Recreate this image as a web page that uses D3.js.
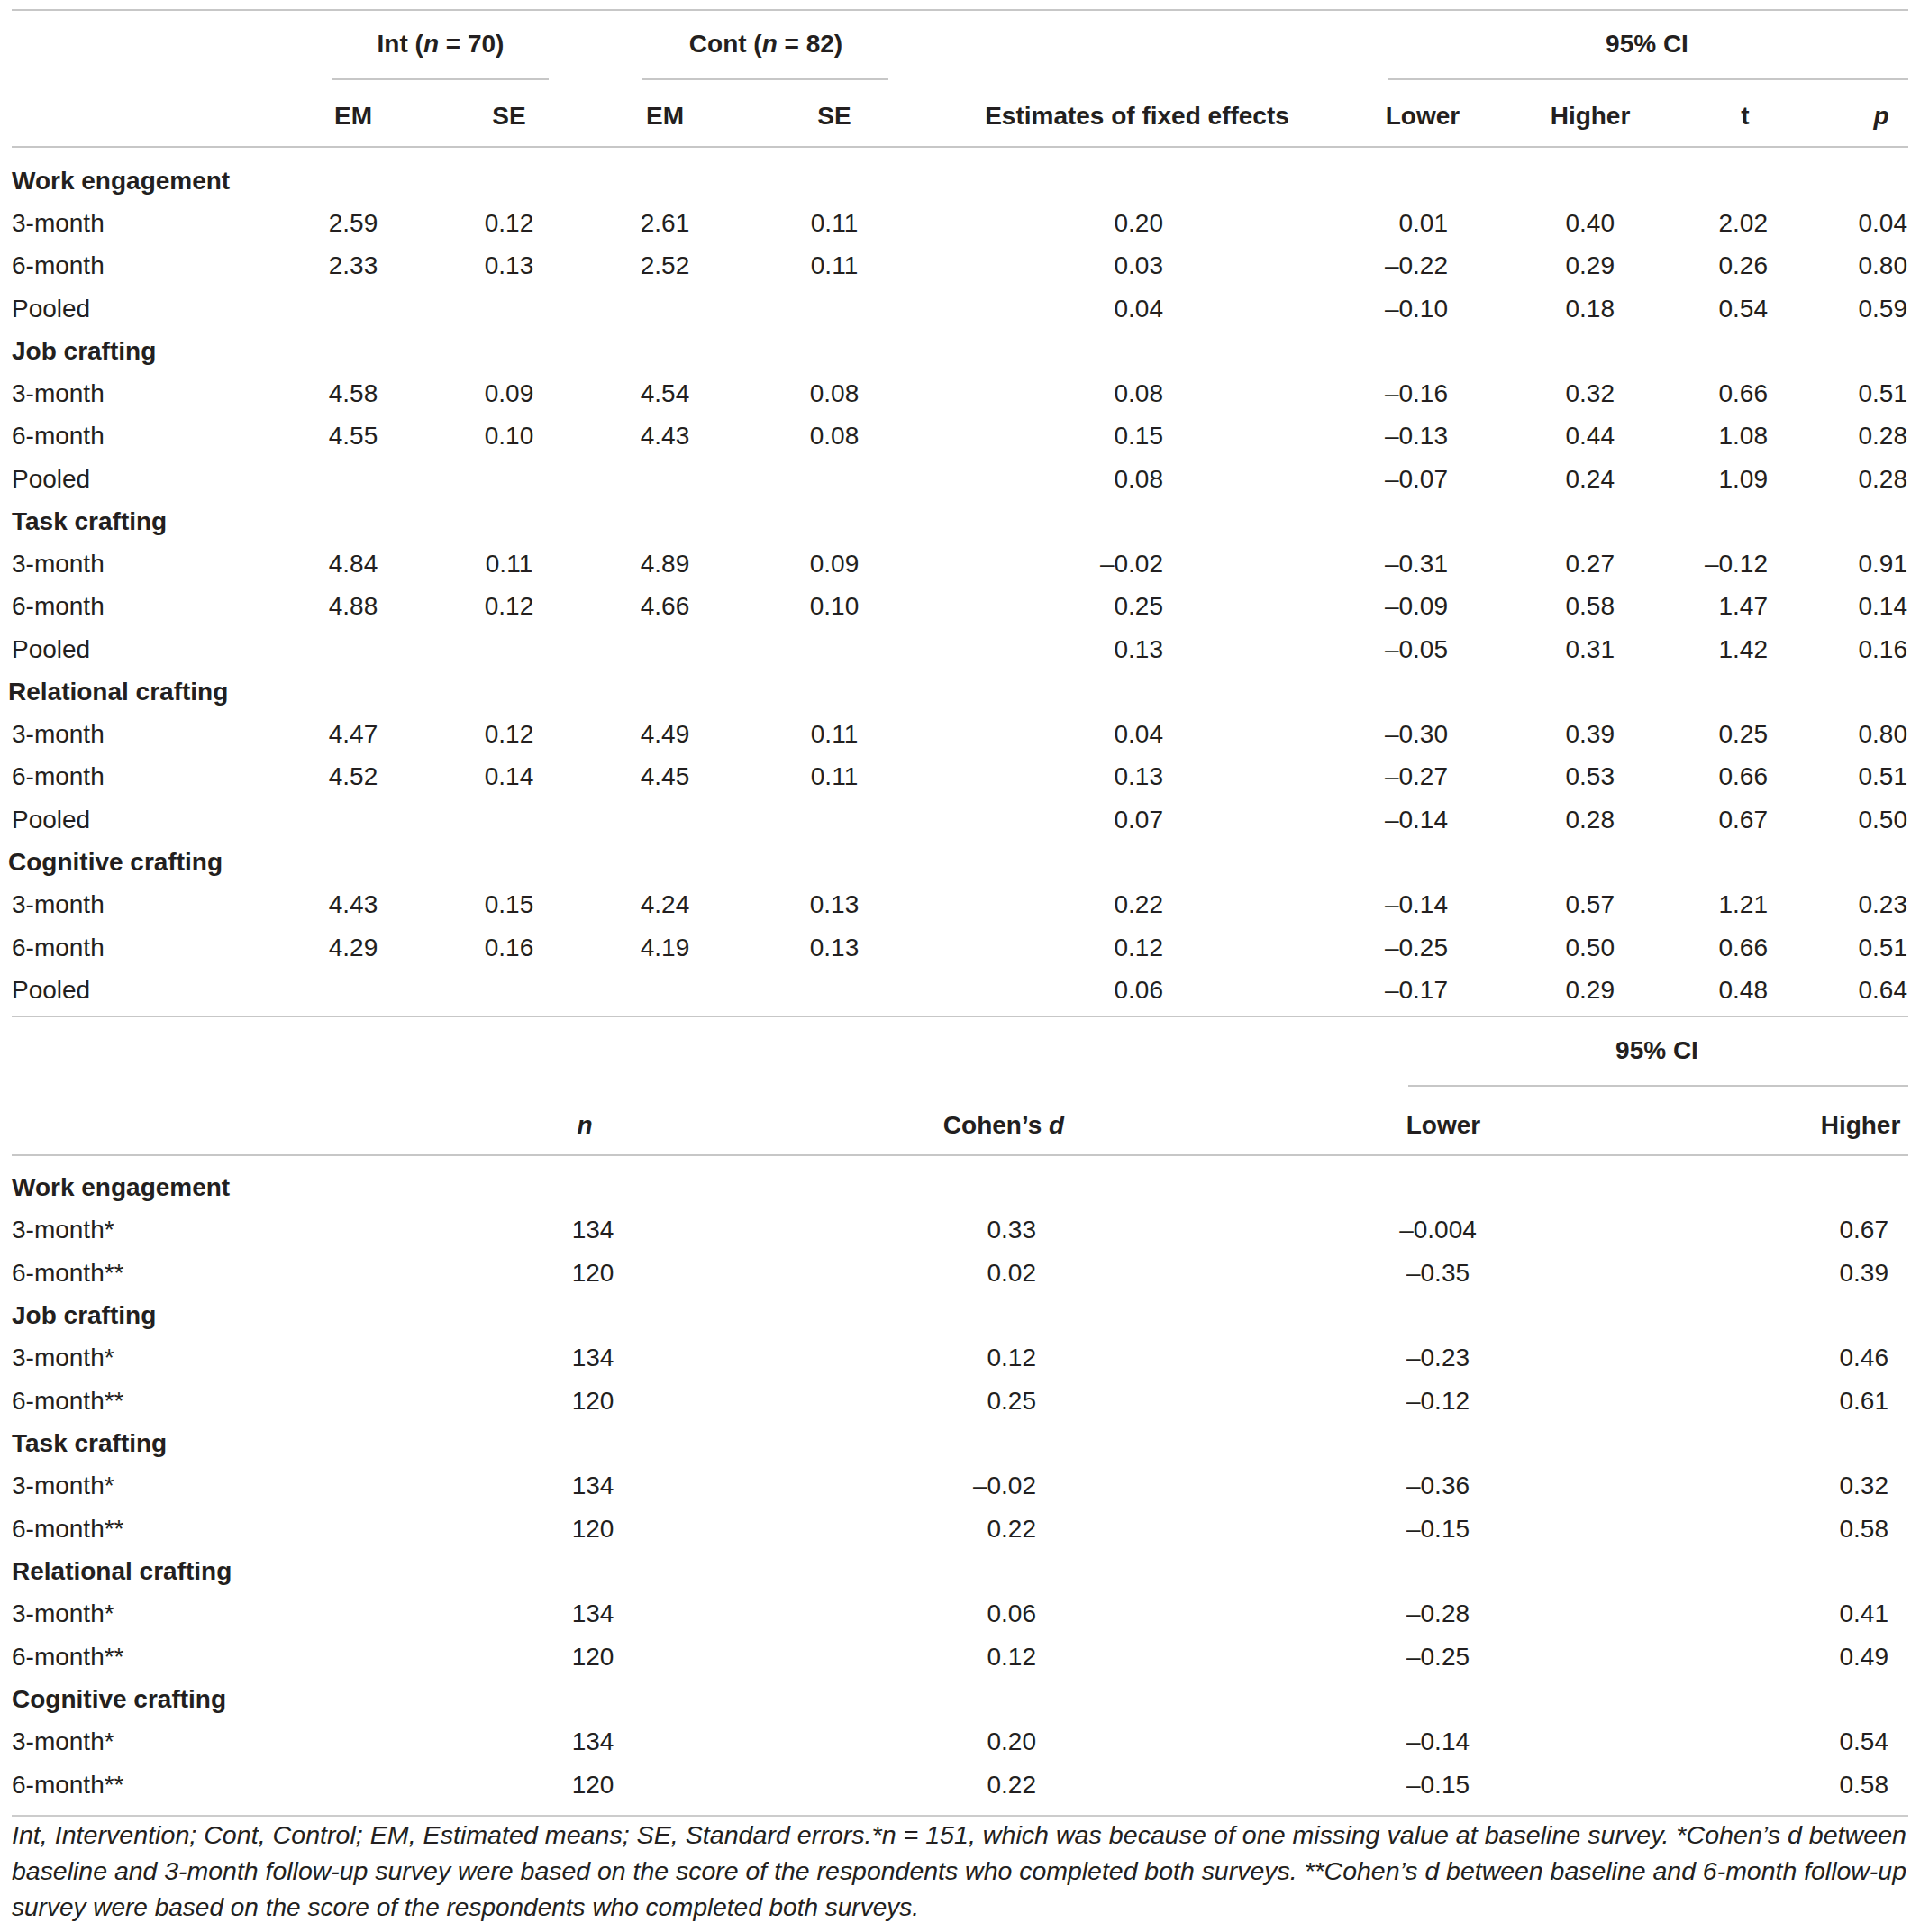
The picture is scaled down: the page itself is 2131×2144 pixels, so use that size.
<!DOCTYPE html>
<html>
<head>
<meta charset="utf-8">
<script src="https://cdn.jsdelivr.net/npm/d3@7"></script>
<style>
  html, body { margin: 0; padding: 0; background: #fff; }
  svg text { font-family: "Liberation Sans", Arial, Helvetica, sans-serif; }
</style>
</head>
<body>
<div id="table"></div>
<script>
// ── Data ─────────────────────────────────────────────────────────
const groups   = ["Work engagement", "Job crafting", "Task crafting", "Relational crafting", "Cognitive crafting"];
const periods  = ["3-month", "6-month", "Pooled"];
const periods2 = ["3-month*", "6-month**"];

// upper table, one entry per group × period (null = empty cell)
const intEM    = [2.59, 2.33, null, 4.58, 4.55, null, 4.84, 4.88, null, 4.47, 4.52, null, 4.43, 4.29, null];
const intSE    = [0.12, 0.13, null, 0.09, 0.10, null, 0.11, 0.12, null, 0.12, 0.14, null, 0.15, 0.16, null];
const contEM   = [2.61, 2.52, null, 4.54, 4.43, null, 4.89, 4.66, null, 4.49, 4.45, null, 4.24, 4.19, null];
const contSE   = [0.11, 0.11, null, 0.08, 0.08, null, 0.09, 0.10, null, 0.11, 0.11, null, 0.13, 0.13, null];
const fixedEst = [0.20, 0.03, 0.04, 0.08, 0.15, 0.08, -0.02, 0.25, 0.13, 0.04, 0.13, 0.07, 0.22, 0.12, 0.06];
const ciLower  = [0.01, -0.22, -0.10, -0.16, -0.13, -0.07, -0.31, -0.09, -0.05, -0.30, -0.27, -0.14, -0.14, -0.25, -0.17];
const ciHigher = [0.40, 0.29, 0.18, 0.32, 0.44, 0.24, 0.27, 0.58, 0.31, 0.39, 0.53, 0.28, 0.57, 0.50, 0.29];
const tStat    = [2.02, 0.26, 0.54, 0.66, 1.08, 1.09, -0.12, 1.47, 1.42, 0.25, 0.66, 0.67, 1.21, 0.66, 0.48];
const pVal     = [0.04, 0.80, 0.59, 0.51, 0.28, 0.28, 0.91, 0.14, 0.16, 0.80, 0.51, 0.50, 0.23, 0.51, 0.64];

// lower table, one entry per group × period2
const sampleN  = [134, 120, 134, 120, 134, 120, 134, 120, 134, 120];
const cohenD   = [0.33, 0.02, 0.12, 0.25, -0.02, 0.22, 0.06, 0.12, 0.20, 0.22];
const dLower   = [-0.004, -0.35, -0.23, -0.12, -0.36, -0.15, -0.28, -0.25, -0.14, -0.15];
const dHigher  = [0.67, 0.39, 0.46, 0.61, 0.32, 0.58, 0.41, 0.49, 0.54, 0.58];

const footnote = [
  "Int, Intervention; Cont, Control; EM, Estimated means; SE, Standard errors.*n = 151, which was because of one missing value at baseline survey. *Cohen\u2019s d between",
  "baseline and 3-month follow-up survey were based on the score of the respondents who completed both surveys. **Cohen\u2019s d between baseline and 6-month follow-up",
  "survey were based on the score of the respondents who completed both surveys."
];

// ── Helpers ──────────────────────────────────────────────────────
function fmt(v) {
  if (v === null || v === undefined) return "";
  if (Number.isInteger(v) && Math.abs(v) >= 1) return String(v);
  const dec = Math.max(2, (String(Math.abs(v)).split(".")[1] || "").length);
  return (v < 0 ? "\u2013" : "") + Math.abs(v).toFixed(dec);
}

const W = 2131, H = 2144;
const FS = 28;
const TEXT = "#231f20";
const RULE = "#b4b4b4";
const L = 13, R = 2118;

const svg = d3.select("#table").append("svg")
  .attr("width", W).attr("height", H)
  .attr("viewBox", `0 0 ${W} ${H}`);

function txt(x, y, s, anchor = "start", weight = "normal") {
  return svg.append("text")
    .attr("x", x).attr("y", y).attr("dy", "0.35em")
    .attr("text-anchor", anchor)
    .attr("font-size", FS).attr("font-weight", weight)
    .attr("fill", TEXT)
    .text(s);
}
function rule(x1, x2, y, color = RULE, w = 1.6) {
  svg.append("line").attr("x1", x1).attr("x2", x2).attr("y1", y).attr("y2", y)
    .attr("stroke", color).attr("stroke-width", w);
}
// header with italic parts: parts = [[text, italic], ...]
function richHeader(x, y, parts, anchor = "middle") {
  const t = svg.append("text")
    .attr("x", x).attr("y", y).attr("dy", "0.35em")
    .attr("text-anchor", anchor)
    .attr("font-size", FS).attr("font-weight", "bold").attr("fill", TEXT);
  parts.forEach(([s, it]) => t.append("tspan").attr("font-style", it ? "italic" : "normal").text(s));
  return t;
}

// ── Upper table ──────────────────────────────────────────────────
const topCols = [
  { key: "intEM",  data: intEM,    anchor: "middle" },
  { key: "intSE",  data: intSE,    anchor: "middle" },
  { key: "contEM", data: contEM,   anchor: "middle" },
  { key: "contSE", data: contSE,   anchor: "middle" },
  { key: "est",    data: fixedEst, anchor: "end" },
  { key: "lower",  data: ciLower,  anchor: "end" },
  { key: "higher", data: ciHigher, anchor: "end" },
  { key: "t",      data: tStat,    anchor: "end" },
  { key: "p",      data: pVal,     anchor: "end" }
];
const xTop = d3.scaleOrdinal()
  .domain(topCols.map(c => c.key))
  .range([392, 565, 738, 926, 1291, 1607, 1792, 1962, 2117]);

const topRows = [];
groups.forEach((g, gi) => {
  topRows.push({ label: g, group: true, gi });
  periods.forEach((p, pi) => topRows.push({ label: p, group: false, idx: gi * periods.length + pi }));
});
const yTop = d3.scaleLinear().domain([0, topRows.length - 1]).range([200, 1098]);

rule(L, R, 11);
richHeader(489, 48, [["Int (", false], ["n", true], [" = 70)", false]]);
richHeader(850, 48, [["Cont (", false], ["n", true], [" = 82)", false]]);
richHeader(1828, 48, [["95% CI", false]]);
rule(368, 609, 88);
rule(713, 986, 88);
rule(1541, R, 88);

const topHead = [["EM", 392], ["SE", 565], ["EM", 738], ["SE", 926],
  ["Estimates of fixed effects", 1262], ["Lower", 1579], ["Higher", 1765], ["t", 1937]];
topHead.forEach(([s, x]) => txt(x, 128, s, "middle", "bold"));
richHeader(2088, 128, [["p", true]]);
rule(L, R, 163);

topRows.forEach((r, i) => {
  const y = yTop(i);
  if (r.group) {
    txt(r.gi >= 3 ? 9 : 13, y, r.label, "start", "bold");
    return;
  }
  txt(13, y, r.label);
  topCols.forEach(c => {
    const v = c.data[r.idx];
    if (v !== null) txt(xTop(c.key), y, fmt(v), c.anchor);
  });
});

rule(L, R, 1128);

// ── Lower table ──────────────────────────────────────────────────
const botCols = [
  { key: "n",      data: sampleN, anchor: "middle" },
  { key: "d",      data: cohenD,  anchor: "end" },
  { key: "lower",  data: dLower,  anchor: "middle" },
  { key: "higher", data: dHigher, anchor: "end" }
];
const xBot = d3.scaleOrdinal()
  .domain(botCols.map(c => c.key))
  .range([658, 1150, 1596, 2096]);

const botRows = [];
groups.forEach((g, gi) => {
  botRows.push({ label: g, group: true });
  periods2.forEach((p, pi) => botRows.push({ label: p, group: false, idx: gi * periods2.length + pi }));
});
const yBot = d3.scaleLinear().domain([0, botRows.length - 1]).range([1317, 1980]);

richHeader(1839, 1165, [["95% CI", false]]);
rule(1563, R, 1205);
richHeader(649, 1248, [["n", true]]);
richHeader(1114, 1248, [["Cohen\u2019s ", false], ["d", true]]);
txt(1602, 1248, "Lower", "middle", "bold");
txt(2065, 1248, "Higher", "middle", "bold");
rule(L, R, 1282);

botRows.forEach((r, i) => {
  const y = yBot(i);
  if (r.group) { txt(13, y, r.label, "start", "bold"); return; }
  txt(13, y, r.label);
  botCols.forEach(c => txt(xBot(c.key), y, fmt(c.data[r.idx]), c.anchor));
});

rule(L, R, 2015, "#cccccc", 2.2);

// ── Footnote (baselines) ─────────────────────────────────────────
const yFoot = d3.scalePoint().domain(d3.range(footnote.length)).range([2046, 2126]);
footnote.forEach((line, i) => {
  const t = svg.append("text")
    .attr("x", L).attr("y", yFoot(i))
    .attr("font-size", FS).attr("font-style", "italic").attr("fill", TEXT)
    .text(line);
  if (i < footnote.length - 1) t.attr("textLength", R - L - 2).attr("lengthAdjust", "spacingAndGlyphs");
});
</script>
</body>
</html>
